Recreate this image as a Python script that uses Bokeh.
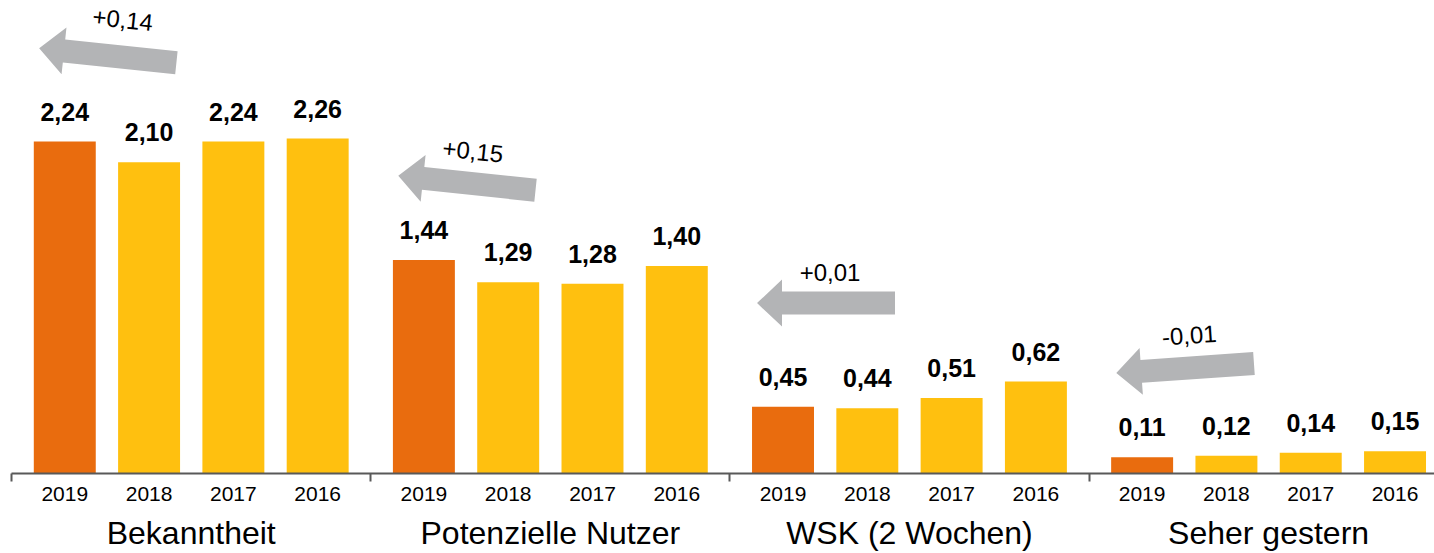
import math
from bokeh.plotting import figure
from bokeh.models import Range1d, FixedTicker, LinearAxis, ColumnDataSource
from bokeh.core.properties import value
from bokeh.embed import file_html
from bokeh.resources import INLINE

# ---------------- data ----------------
groups = ["Bekanntheit", "Potenzielle Nutzer", "WSK (2 Wochen)", "Seher gestern"]
years = ["2019", "2018", "2017", "2016"]
bekanntheit = [2.24, 2.10, 2.24, 2.26]
potenzielle_nutzer = [1.44, 1.29, 1.28, 1.40]
wsk_2_wochen = [0.45, 0.44, 0.51, 0.62]
seher_gestern = [0.11, 0.12, 0.14, 0.15]
changes = ["+0,14", "+0,15", "+0,01", "-0,01"]

series = [bekanntheit, potenzielle_nutzer, wsk_2_wochen, seher_gestern]

# ---------------- layout / style ----------------
GAP = 0.26            # gap between groups (in bar slots)
BAR_W = 0.735
PX_X = 84.3           # px per slot
PX_Y = 148.2          # px per unit value
FRAME_W = 1423
FRAME_H = 465
FONT = "Liberation Sans"
ORANGE = "#E96C0E"
YELLOW = "#FFC00F"
GREY = "#B3B4B6"
AXIS_C = "#595959"

# arrow layout (annotation positions, not data)
arrow_y = [2.82, 1.96, 1.15, 0.71]
arrow_angle_deg = [-6.0, -6.0, 0.0, 4.0]
arrow_dx_px = 43
label_dx_px = [15, 6, 4, 4]
label_dy_px = [-36, -32, -31, -33]
ARROW_LEN, SHAFT_T, HEAD_L, HEAD_H = 138, 23, 25, 47

n = len(years)
def xpos(j, k):
    return round(j * (n + GAP) + k, 4)

x_start = round(-0.5 - GAP / 2 - 0.002, 4)
x_end = x_start + FRAME_W / PX_X
y_end = FRAME_H / PX_Y

xs, tops, colors, lbls = [], [], [], []
for j, vals in enumerate(series):
    for k, v in enumerate(vals):
        xs.append(xpos(j, k))
        tops.append(v)
        colors.append(ORANGE if k == 0 else YELLOW)
        lbls.append(f"{v:.2f}".replace(".", ","))

src = ColumnDataSource(dict(x=xs, top=tops, color=colors, label=lbls))

p = figure(width=1434, height=553, x_range=Range1d(x_start, x_end),
           y_range=Range1d(0, y_end), x_axis_type=None, y_axis_type=None,
           output_backend="svg", toolbar_location=None,
           min_border_left=11, min_border_right=0, min_border_top=8,
           min_border_bottom=80)
p.outline_line_color = None
p.background_fill_color = "white"
p.border_fill_color = "white"

p.vbar(x="x", top="top", width=BAR_W, fill_color="color", line_color=None, source=src)
p.text(x="x", y="top", text="label", source=src, text_font=value(FONT),
       text_font_style="bold", text_font_size="25px", text_color="black",
       text_align="center", text_baseline="middle", y_offset=-30)

# year axis with group separators as minor ticks
seps = [round(xpos(j, 0) - 0.5 - GAP / 2, 4) for j in range(len(groups))]
ax1 = LinearAxis(ticker=FixedTicker(ticks=xs, minor_ticks=seps))
ax1.major_label_overrides = {x: years[i % n] for i, x in enumerate(xs)}
ax1.axis_line_color = AXIS_C
ax1.axis_line_width = 2
ax1.major_tick_line_color = None
ax1.major_tick_in = 0
ax1.major_tick_out = 0
ax1.minor_tick_line_color = AXIS_C
ax1.minor_tick_line_width = 2
ax1.minor_tick_in = 0
ax1.minor_tick_out = 8
ax1.major_label_text_font = FONT
ax1.major_label_text_font_size = "21px"
ax1.major_label_text_color = "black"
ax1.major_label_standoff = 5
p.add_layout(ax1, "below")

# group axis
gcent = [round(xpos(j, 0) + (n - 1) / 2, 4) for j in range(len(groups))]
ax2 = LinearAxis(ticker=FixedTicker(ticks=gcent, minor_ticks=[]))
ax2.major_label_overrides = {x: groups[i] for i, x in enumerate(gcent)}
ax2.axis_line_color = None
ax2.major_tick_line_color = None
ax2.minor_tick_line_color = None
ax2.major_tick_in = 0
ax2.major_tick_out = 0
ax2.major_label_text_font = FONT
ax2.major_label_text_font_size = "32px"
ax2.major_label_text_color = "black"
ax2.major_label_standoff = 11
p.add_layout(ax2, "below")

# arrows
def arrow_shape(cx, cy, ang_deg):
    a = math.radians(ang_deg)
    L, st, hl, hh = ARROW_LEN, SHAFT_T, HEAD_L, HEAD_H
    pts = [(-L / 2, 0), (-L / 2 + hl, hh / 2), (-L / 2 + hl, st / 2), (L / 2, st / 2),
           (L / 2, -st / 2), (-L / 2 + hl, -st / 2), (-L / 2 + hl, -hh / 2)]
    px, py = [], []
    for (x, y) in pts:
        xr = x * math.cos(a) - y * math.sin(a)
        yr = x * math.sin(a) + y * math.cos(a)
        px.append(cx + xr / PX_X)
        py.append(cy + yr / PX_Y)
    return px, py

axs, ays, acx = [], [], []
for j in range(len(groups)):
    cx = xpos(j, 0) + arrow_dx_px / PX_X
    acx.append(cx)
    sx, sy = arrow_shape(cx, arrow_y[j], arrow_angle_deg[j])
    axs.append(sx)
    ays.append(sy)
p.patches(xs=axs, ys=ays, fill_color=GREY, line_color=None)

asrc = ColumnDataSource(dict(x=acx, y=arrow_y, text=changes,
                             angle=[math.radians(a) for a in arrow_angle_deg],
                             dx=label_dx_px, dy=label_dy_px))
p.text(x="x", y="y", text="text", angle="angle", x_offset="dx", y_offset="dy",
       source=asrc, text_font=value(FONT), text_font_size="24px",
       text_color="black", text_align="center", text_baseline="middle")

open("out.html", "w").write(file_html(p, INLINE))
